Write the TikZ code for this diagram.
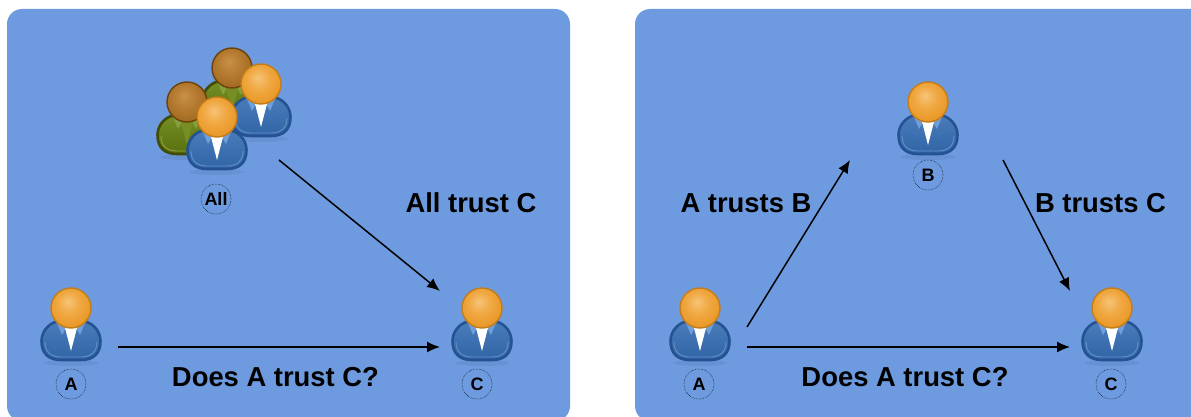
\documentclass[tikz,border=0pt]{standalone}
\usepackage{fontspec}
\setmainfont{Liberation Sans}
\usetikzlibrary{positioning}
\usetikzlibrary{arrows.meta}
\definecolor{panelblue}{RGB}{110,155,224}
\definecolor{suitblue}{RGB}{48,100,166}
\definecolor{suittop}{RGB}{74,124,186}
\definecolor{suitdark}{RGB}{36,82,146}
\definecolor{suitrim}{RGB}{100,146,200}
\definecolor{suitcollar}{RGB}{112,158,216}
\definecolor{headrim}{RGB}{196,124,24}
\definecolor{oliveback}{RGB}{88,112,14}
\definecolor{olivetop}{RGB}{118,142,36}
\definecolor{olivedark}{RGB}{66,76,4}
\definecolor{oliverim}{RGB}{140,160,60}
\definecolor{olivecollar}{RGB}{132,160,62}
\definecolor{brownrim}{RGB}{108,66,10}
\definecolor{goldone}{RGB}{246,196,120}
\definecolor{goldtwo}{RGB}{240,168,66}
\definecolor{goldthree}{RGB}{232,150,36}
\definecolor{goldfour}{RGB}{216,134,26}
\definecolor{brownone}{RGB}{200,144,72}
\definecolor{browntwo}{RGB}{182,124,50}
\definecolor{brownthree}{RGB}{160,104,32}
\definecolor{brownfour}{RGB}{132,84,20}
\pgfdeclareradialshading{goldhead}{\pgfpoint{-4bp}{8bp}}{
    color(0bp)=(goldone);
    color(14bp)=(goldtwo);
    color(30bp)=(goldthree);
    color(60bp)=(goldfour)}
\pgfdeclareradialshading{brownhead}{\pgfpoint{-4bp}{8bp}}{
    color(0bp)=(brownone);
    color(14bp)=(browntwo);
    color(30bp)=(brownthree);
    color(60bp)=(brownfour)}
\tikzset{
    panel/.style = {fill=panelblue, rounded corners=15pt},
    iconbox/.style = {inner sep=0pt, outer sep=0pt},
    tag/.style = {draw, circle, densely dotted, line width=0.5pt, minimum size=30pt, inner sep=0pt, font=\fontsize{18}{18}\selectfont\bfseries},
    caption/.style = {font=\fontsize{27.4}{27.4}\selectfont\bfseries},
    link/.style = {-{Latex[length=13pt,width=11pt]}, line width=1.5pt},
    pics/person/.style n args = {8}{code = {
        \fill[black, opacity=0.06] (0,55) ellipse (27pt and 3pt);
        \draw[line width=2.6pt, draw=#2, top color=#8, bottom color=#1] (-29.5,33)
            .. controls (-29.5,22) and (-20,13) .. (-10,13) -- (10,13)
            .. controls (20,13) and (29.5,22) .. (29.5,33)
            .. controls (29.5,46) and (22,52) .. (10,52) -- (-10,52)
            .. controls (-22,52) and (-29.5,46) .. (-29.5,33) -- cycle;
        \draw[line width=0.9pt, draw=#3] (-26,34)
            .. controls (-26,44) and (-20,49) .. (-10,49) -- (10,49)
            .. controls (20,49) and (26,44) .. (26,34);
        \fill[#4] (-14,15) -- (-9,27) -- (-4,18) -- (4,18) -- (9,27) -- (14,15) -- cycle;
        \fill[#7] (-7,16) -- (0,43) -- (7,16) -- cycle;
        \shade[shading=#5, draw=#6, line width=1.4pt] (0,0) circle (20pt);
    }},
    pics/blueman/.style = {/tikz/pics/person={suitblue}{suitdark}{suitrim}{suitcollar}{goldhead}{headrim}{white}{suittop}},
    pics/oliveman/.style = {/tikz/pics/person={oliveback}{olivedark}{oliverim}{olivecollar}{brownhead}{brownrim}{olivetop}{olivetop}},
}
\begin{document}
\begin{tikzpicture}[x=1pt, y=-1pt]
    \useasboundingbox (0,0) rectangle (1191,417);
    % panels
    \fill[panel] (7,9) rectangle (570,421);
    \fill[panel] (635,9) rectangle (1210,421);

    % left panel
    \pic at (232,68) {oliveman};
    \pic at (261,84) {blueman};
    \pic at (187,102) {oliveman};
    \pic at (217,117) {blueman};
    \pic at (71,308) {blueman};
    \pic at (482,308) {blueman};

    \node[iconbox, minimum width=122pt, minimum height=110pt] (group) at (218,105) {};
    \node[iconbox, minimum width=94pt, minimum height=40pt] (lefta) at (71,327) {};
    \node[iconbox, minimum width=84pt, minimum height=56pt] (leftc) at (482,319) {};

    \node[tag] (taggroup) at (216,199) {All};
    \node[tag] (taglefta) at (71,384) {A};
    \node[tag] (tagleftc) at (477,384) {C};

    \draw[link] (group.south east) -- (leftc.north west);
    \draw[link] (lefta.south east) -- (leftc.south west);

    \node[caption] (alltrust) at (471,203) {All trust C};
    \node[caption] (leftask) at (275.5,377) {Does A trust C?};

    % right panel
    \pic at (928,102) {blueman};
    \pic at (700,308) {blueman};
    \pic at (1112,308) {blueman};

    \node[iconbox, minimum width=153pt, minimum height=70pt] (rightb) at (926.5,125) {};
    \node[iconbox, minimum width=94pt, minimum height=40pt] (righta) at (700,327) {};
    \node[iconbox, minimum width=84pt, minimum height=56pt] (rightc) at (1112,319) {};

    \node[tag] (tagrightb) at (928,175) {B};
    \node[tag] (tagrighta) at (699,384) {A};
    \node[tag] (tagrightc) at (1111,384) {C};

    \draw[link] (righta.east) -- (rightb.south west);
    \draw[link] (rightb.south east) -- (rightc.north west);
    \draw[link] (righta.south east) -- (rightc.south west);

    \node[caption] (atrust) at (746,203) {A trusts B};
    \node[caption] (btrust) at (1100.5,203) {B trusts C};
    \node[caption] (rightask) at (905,377) {Does A trust C?};
\end{tikzpicture}
\end{document}
